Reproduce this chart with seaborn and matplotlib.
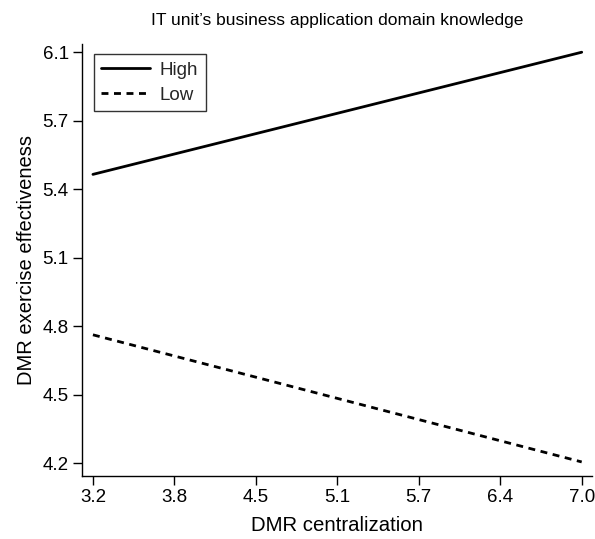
import numpy as np
import pandas as pd
import matplotlib
matplotlib.use("Agg")
import matplotlib.pyplot as plt
import seaborn as sns

# Data
groups = ["High", "High", "Low", "Low"]
centralization = [3.2, 7.0, 3.2, 7.0]
effectiveness = [5.535, 6.1, 4.793, 4.205]

x_tick_labels = ["3.2", "3.8", "4.5", "5.1", "5.7", "6.4", "7.0"]
y_tick_labels = ["4.2", "4.5", "4.8", "5.1", "5.4", "5.7", "6.1"]

title = "IT unit\u2019s business application domain knowledge"
xlabel = "DMR centralization"
ylabel = "DMR exercise effectiveness"

df = pd.DataFrame({"group": groups, "x": centralization, "y": effectiveness})

sns.set_style("ticks")
plt.rcParams["font.family"] = ["Liberation Sans", "DejaVu Sans"]

fig = plt.figure(figsize=(5.95, 5.39), dpi=100)
ax = fig.add_axes([82/595, 1 - 476/539, (592 - 82)/595, (476 - 44)/539])

sns.lineplot(data=df, x="x", y="y", style="group", color="black",
             dashes={"High": "", "Low": (2.5, 2)}, linewidth=2.0, ax=ax,
             legend=True)

xt = np.linspace(3.2, 7.0, 7)
yt = np.linspace(4.2, 6.1, 7)
ax.set_xticks(xt)
ax.set_xticklabels(x_tick_labels)
ax.set_yticks(yt)
ax.set_yticklabels(y_tick_labels)
ax.set_xlim(3.115, 7.08)
ax.set_ylim(4.14, 6.138)

for s in ["top", "right"]:
    ax.spines[s].set_visible(False)
for s in ["left", "bottom"]:
    ax.spines[s].set_color("black")
    ax.spines[s].set_linewidth(1.0)
ax.tick_params(axis="both", direction="out", length=6.5, width=1.0,
               color="black", labelsize=13.5, labelcolor="black", pad=3)

ax.set_xlabel(xlabel, fontsize=14.7, color="black", labelpad=7)
ax.set_ylabel(ylabel, fontsize=14.5, color="black", labelpad=5)
ax.set_title(title, fontsize=12.5, color="black", pad=14)

leg = ax.legend(loc="upper left", bbox_to_anchor=(0.0235, 0.977), borderaxespad=0,
                fontsize=13.5, frameon=True, fancybox=False, edgecolor="black",
                handlelength=2.6, borderpad=0.4, labelspacing=0.42,
                handletextpad=0.5)
leg.get_frame().set_linewidth(1.0)
leg.set_title(None)

fig.savefig("out.png", dpi=100, facecolor="white")
